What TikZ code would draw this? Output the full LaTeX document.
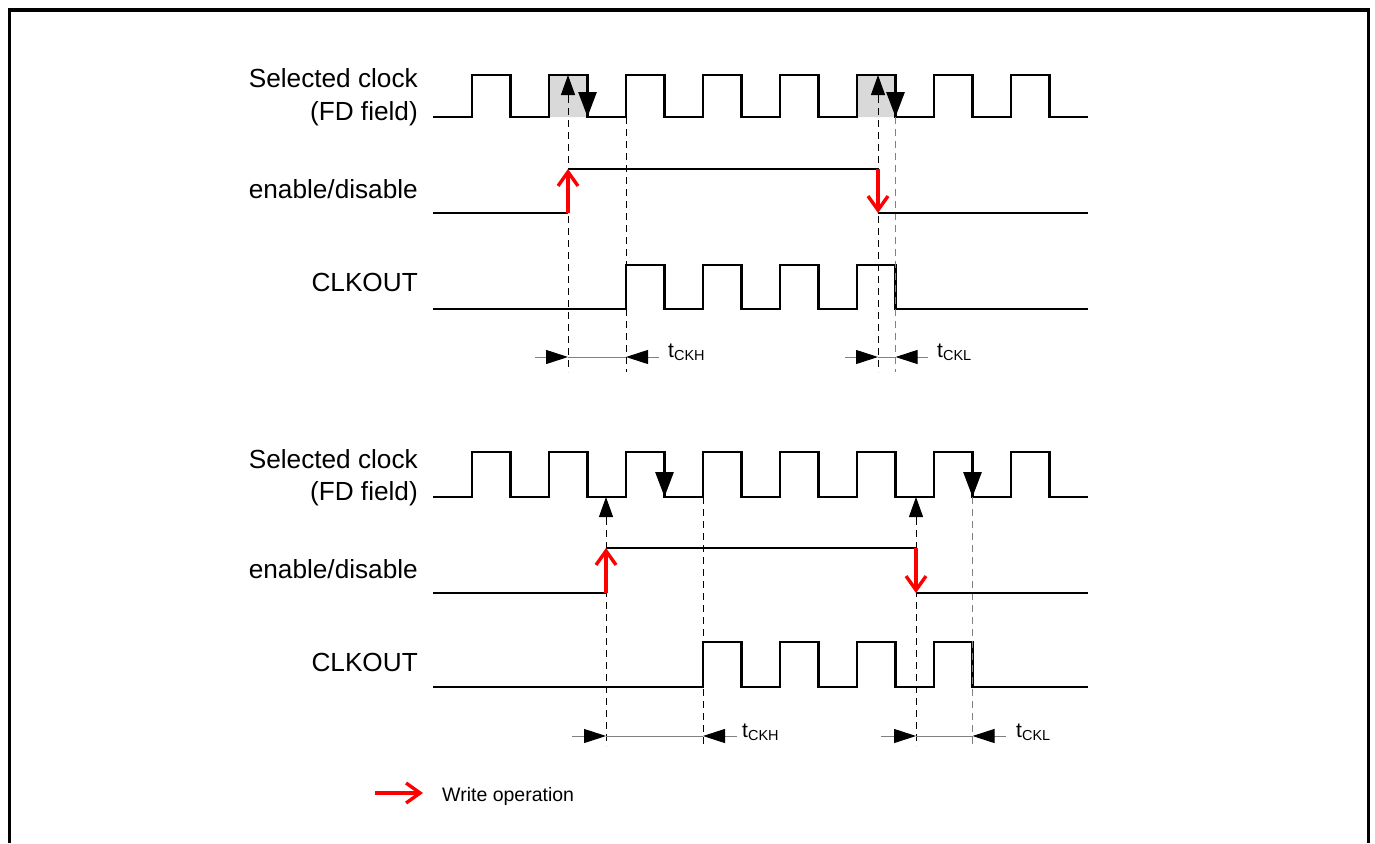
\documentclass[tikz,border=0pt]{standalone}
\usepackage{fontspec}
\setmainfont{Liberation Sans}
\usetikzlibrary{arrows.meta}

\newcommand{\tdel}[1]{{\fontsize{21}{22}\selectfont t}{\fontsize{14.5}{16}\selectfont\raisebox{-3pt}{#1}}}

\begin{document}
\begin{tikzpicture}[x=1pt,y=-1pt,
    sig/.style={line width=2.9pt},
    guide/.style={line width=1pt,dash pattern=on 7pt off 5pt},
    guideg/.style={guide,gray},
    dim/.style={line width=1pt,gray},
    tip/.style={-{Triangle[length=22pt,width=14pt,black]}},
    upt/.style={line width=1pt,-{Triangle[length=20pt,width=14pt]}},
    dnt/.style={line width=2.9pt,-{Triangle[length=25pt,width=18pt]}},
    wr/.style={red,line width=3.4pt,-{Straight Barb[length=14pt,width=20pt]}},
    lbl/.style={anchor=base east,inner sep=0pt,font=\fontsize{26.2}{30}\selectfont},
    tl/.style={anchor=base west,inner sep=0pt}]

    \useasboundingbox (0,0) rectangle (1375,843);

    % frame
    \draw[line width=3.8pt] (9.5,843) -- (9.5,10) -- (1368.5,10) -- (1368.5,843);

    % upper
    \node[lbl] (sel1) at (418,88) {Selected clock};
    \node[lbl] (fd1) at (418,120) {(FD field)};
    \node[lbl] (ena1) at (418,198) {enable/disable};
    \node[lbl] (out1) at (418,291) {CLKOUT};

    \fill[gray!30] (549,75) rectangle (587.5,117) (857,75) rectangle (895.5,117);
    \draw[sig] (433,117) \foreach \k in {0,...,7}
      { -- ({472+77*\k},117) -- ++(0,-42) -- ++(38.5,0) -- ++(0,42) } -- (1088,117);
    \draw[sig] (433,309) \foreach \k in {2,...,5}
      { -- ({472+77*\k},309) -- ++(0,-44) -- ++(38.5,0) -- ++(0,44) } -- (1088,309);

    \foreach \n/\x/\y in {ga/568/96, gb/626/117, gc/878/96, gd/895.5/117}
    { \path (\x,\y) coordinate (\n1) (\x,372) coordinate (\n2); }
    \draw[guide] (ga1) -- (ga2) (gb1) -- (gb2) (gc1) -- (gc2);
    \draw[guideg] (gd1) -- (gd2);

    \path (568,75) coordinate (ga0) (878,75) coordinate (gc0);
    \path (587.5,75) coordinate (fa0) (587.5,117) coordinate (fa1);
    \path (895.5,75) coordinate (fb0) (895.5,117) coordinate (fb1);
    \draw[upt] (ga1) -- (ga0);
    \draw[upt] (gc1) -- (gc0);
    \draw[dnt] (fa0) -- (fa1);
    \draw[dnt] (fb0) -- (fb1);

    \path (433,213) coordinate (e0) (568,213) coordinate (e1) (568,169) coordinate (e2)
          (878,169) coordinate (e3) (878,213) coordinate (e4) (1088,213) coordinate (e5);
    \draw[sig] (e0) -- (e1) (e2) -- (e3) (e4) -- (e5);
    \draw[wr] (e1) -- (e2);
    \draw[wr] (e3) -- (e4);

    \path (535,357) coordinate (ka0) (568,357) coordinate (ka1)
          (626,357) coordinate (ka2) (659,357) coordinate (ka3);
    \draw[dim] (ka1) -- (ka2);
    \draw[dim,tip] (ka0) -- (ka1);
    \draw[dim,tip] (ka3) -- (ka2);
    \node[tl] (ckh1) at (668,357) {\tdel{CKH}};

    \path (845,357) coordinate (kb0) (878,357) coordinate (kb1)
          (895.5,357) coordinate (kb2) (928,357) coordinate (kb3);
    \draw[dim] (kb1) -- (kb2);
    \draw[dim,tip] (kb0) -- (kb1);
    \draw[dim,tip] (kb3) -- (kb2);
    \node[tl] (ckl1) at (937,357) {\tdel{CKL}};

    % lower
    \node[lbl] (sel2) at (418,468) {Selected clock};
    \node[lbl] (fd2) at (418,500) {(FD field)};
    \node[lbl] (ena2) at (418,578) {enable/disable};
    \node[lbl] (out2) at (418,671) {CLKOUT};

    \draw[sig] (433,497) \foreach \k in {0,...,7}
      { -- ({472+77*\k},497) -- ++(0,-45) -- ++(38.5,0) -- ++(0,45) } -- (1088,497);
    \draw[sig] (433,687) \foreach \k in {3,...,6}
      { -- ({472+77*\k},687) -- ++(0,-45) -- ++(38.5,0) -- ++(0,45) } -- (1088,687);

    \foreach \n/\x/\y in {gp/606/518, gq/703/497, gr/916/518, gs/972.5/497}
    { \path (\x,\y) coordinate (\n1) (\x,746) coordinate (\n2); }
    \draw[guide] (gp1) -- (gp2) (gq1) -- (gq2) (gr1) -- (gr2);
    \draw[guideg] (gs1) -- (gs2);

    \path (606,497) coordinate (gp0) (916,497) coordinate (gr0);
    \path (664.5,452) coordinate (fc0) (664.5,497) coordinate (fc1);
    \path (972.5,452) coordinate (fd0) (972.5,497) coordinate (fd1);
    \draw[upt] (gp1) -- (gp0);
    \draw[upt] (gr1) -- (gr0);
    \draw[dnt] (fc0) -- (fc1);
    \draw[dnt] (fd0) -- (fd1);

    \path (433,593) coordinate (h0) (606,593) coordinate (h1) (606,548) coordinate (h2)
          (916,548) coordinate (h3) (916,593) coordinate (h4) (1088,593) coordinate (h5);
    \draw[sig] (h0) -- (h1) (h2) -- (h3) (h4) -- (h5);
    \draw[wr] (h1) -- (h2);
    \draw[wr] (h3) -- (h4);

    \path (572,736) coordinate (kc0) (606,736) coordinate (kc1)
          (703,736) coordinate (kc2) (737,736) coordinate (kc3);
    \draw[dim] (kc1) -- (kc2);
    \draw[dim,tip] (kc0) -- (kc1);
    \draw[dim,tip] (kc3) -- (kc2);
    \node[tl] (ckh2) at (742,737) {\tdel{CKH}};

    \path (881,736) coordinate (kd0) (916,736) coordinate (kd1)
          (972.5,736) coordinate (kd2) (1006,736) coordinate (kd3);
    \draw[dim] (kd1) -- (kd2);
    \draw[dim,tip] (kd0) -- (kd1);
    \draw[dim,tip] (kd3) -- (kd2);
    \node[tl] (ckl2) at (1016,737) {\tdel{CKL}};

    % legend
    \path (375,793) coordinate (w0) (423,793) coordinate (w1);
    \draw[wr] (w0) -- (w1);
    \node[tl,font=\fontsize{19.5}{22}\selectfont] (wop) at (442,801) {Write operation};

\end{tikzpicture}
\end{document}
